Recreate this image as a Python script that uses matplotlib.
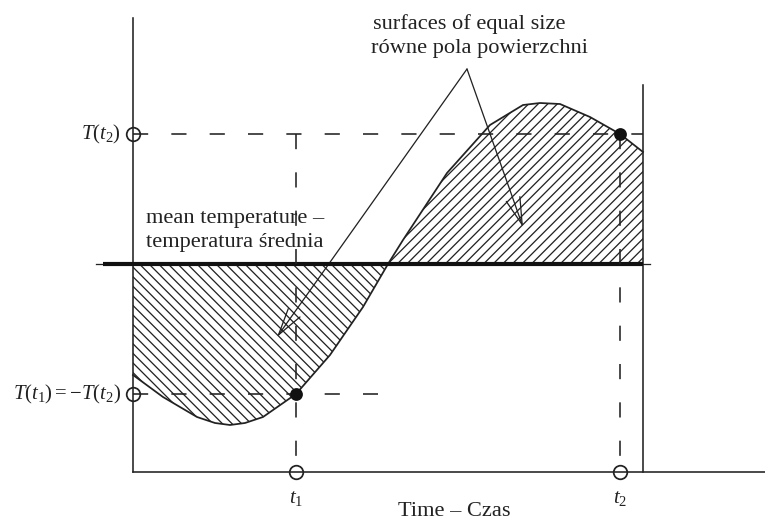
import numpy as np
import matplotlib.pyplot as plt
from matplotlib.patches import FancyArrowPatch

plt.rcParams['font.family'] = ['Liberation Serif', 'DejaVu Serif']
plt.rcParams['mathtext.fontset'] = 'custom'
plt.rcParams['mathtext.rm'] = 'Liberation Serif'
plt.rcParams['mathtext.it'] = 'Liberation Serif:italic'
plt.rcParams['hatch.linewidth'] = 0.8
plt.rcParams['lines.scale_dashes'] = False

# temperature course (relative to the mean) over time
time = [0, 30, 64, 82, 97, 112, 130, 163, 197, 230, 255, 270, 314, 357, 390, 407, 427, 457, 487, 510]
temp = [-111, -133, -153, -159, -161, -159, -153, -130, -91, -43, 0, 24, 91, 139, 159, 161, 160, 147, 130, 112]

T_mean = 0
t1, t2 = 163, 487
T_t2 = 130
T_t1 = -T_t2
t_end = 510          # end of the observed period
T_base = -208        # level of the time axis

dpi = 115
fig = plt.figure(figsize=(765 / dpi, 522 / dpi), dpi=dpi)
ax = fig.add_axes([0, 0, 1, 1])
ax.set_xlim(-133, 632)
ax.set_ylim(264 - 522, 264)
ax.axis('off')

time = np.array(time)
temp = np.array(temp)

# hatched areas below and above the mean
ax.fill_between(time, temp, T_mean, where=temp <= T_mean, interpolate=True,
                facecolor='none', edgecolor='#222222', hatch='\\\\\\\\', linewidth=0)
ax.fill_between(time, temp, T_mean, where=temp >= T_mean, interpolate=True,
                facecolor='none', edgecolor='#222222', hatch='////', linewidth=0)

ax.plot(time, temp, color='#222222', lw=1.1, solid_joinstyle='round')

# axes of the sketch
lc = '#222222'
ax.plot([0, 0], [T_base, 246], color=lc, lw=1.0)
ax.plot([0, 632], [T_base, T_base], color=lc, lw=1.0)
ax.plot([t_end, t_end], [T_base, 179], color=lc, lw=1.0)

# mean temperature line
ax.plot([-37, 517], [T_mean, T_mean], color=lc, lw=0.8)
ax.plot([-30, t_end], [T_mean, T_mean], color='#111111', lw=2.6, solid_capstyle='butt')

# guide lines
dash = (0, (9.5, 14.5))
ax.plot([0, t_end], [T_t2, T_t2], color=lc, lw=1.0, linestyle=dash)
ax.plot([0, 245], [T_t1, T_t1], color=lc, lw=1.0, linestyle=dash)
ax.plot([t1, t1], [T_t2, T_base], color=lc, lw=1.0, linestyle=dash)
ax.plot([t2, t2], [T_t2, T_base], color=lc, lw=1.0, linestyle=dash)

# markers on the axes and on the curve
ax.plot([0, 0, t1, t2], [T_t2, T_t1, T_base, T_base], 'o', ms=8.5,
        mfc='none', mec=lc, mew=1.1, zorder=5)
ax.plot([t1, t2], [T_t1, T_t2], 'o', ms=7, color='#111111', zorder=6)

# pointers to the two equal surfaces
apex = (334, 195)
for tip in [(144, -73), (390, 37)]:
    ax.add_patch(FancyArrowPatch(apex, tip, arrowstyle='->,head_length=17,head_width=4.5',
                                 mutation_scale=1, shrinkA=0, shrinkB=0,
                                 color=lc, lw=0.8))

fs = 14
ax.text(240, 235, 'surfaces of equal size', fontsize=fs, ha='left', va='baseline', color=lc)
ax.text(238, 211, 'równe pola powierzchni', fontsize=fs, ha='left', va='baseline', color=lc)
ax.text(13, 41, 'mean temperature –', fontsize=fs, ha='left', va='baseline', color=lc)
ax.text(13, 17, 'temperatura średnia', fontsize=fs, ha='left', va='baseline', color=lc)

fm = 13
ax.text(-12, T_t2, r'$T(t_2)$', fontsize=fm, ha='right', va='center', color=lc)
ax.text(-12, T_t1, r'$T(t_1) = -T(t_2)$', fontsize=fm, ha='right', va='center', color=lc)
ax.text(t1, T_base - 26, r'$t_1$', fontsize=fm, ha='center', va='center', color=lc)
ax.text(t2, T_base - 26, r'$t_2$', fontsize=fm, ha='center', va='center', color=lc)
ax.text(321, T_base - 40, 'Time – Czas', fontsize=fs, ha='center', va='center', color=lc)

fig.savefig('out.png', dpi=dpi)
